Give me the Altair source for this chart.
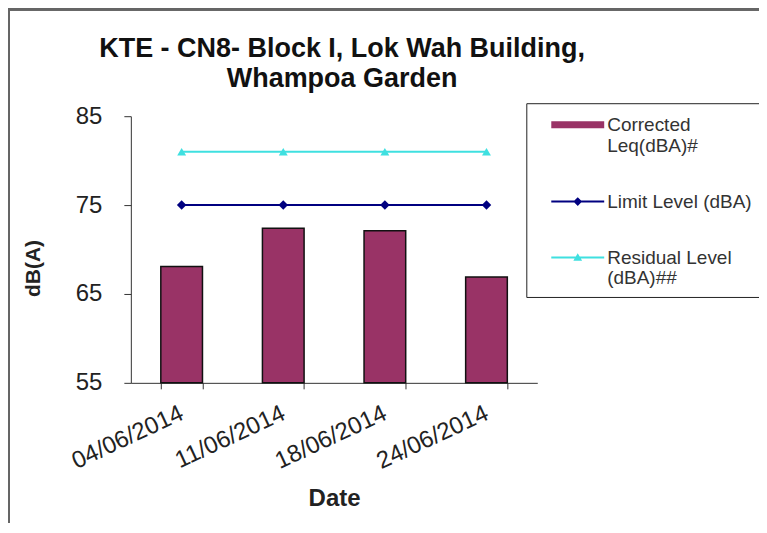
import altair as alt
import pandas as pd

dates = ["04/06/2014", "11/06/2014", "18/06/2014", "24/06/2014"]
corrected = [68.1, 72.4, 72.1, 66.9]
limit = [75, 75, 75, 75]
residual = [81, 81, 81, 81]

series = ["Corrected Leq(dBA)#", "Limit Level (dBA)", "Residual Level (dBA)##"]
colors = ["#993366", "#000080", "#3FE0E0"]
y_ticks = [55, 65, 75, 85]

rows = []
for d, c, l, r in zip(dates, corrected, limit, residual):
    rows.append({"date": d, "series": series[0], "value": c})
    rows.append({"date": d, "series": series[1], "value": l})
    rows.append({"date": d, "series": series[2], "value": r})
df = pd.DataFrame(rows)

FONT = "Liberation Sans"

x_enc = alt.X(
    "date:N",
    sort=dates,
    title="Date",
    scale=alt.Scale(paddingInner=0.59, paddingOuter=0.295),
    axis=alt.Axis(
        labelAngle=-25,
        labelAlign="right",
        labelBaseline="top",
        labelFontSize=24,
        labelFont=FONT,
        labelColor="#222",
        labelPadding=12,
        labelOffset=-5,
        tickBand="extent",
        tickSize=6,
        tickColor="#333",
        domainColor="#333",
        titleFontSize=24,
        titleFont=FONT,
        titleFontWeight="bold",
        titleColor="#222",
        titlePadding=13,
    ),
)
y_scale = alt.Scale(domain=[55, 85], nice=False, zero=False)
y_axis = alt.Axis(
    values=y_ticks,
    grid=False,
    labelFontSize=24,
    labelFont=FONT,
    labelColor="#222",
    labelPadding=22,
    tickSize=7,
    tickColor="#333",
    domainColor="#333",
    title="dB(A)",
    titleFontSize=21,
    titleFont=FONT,
    titleFontWeight="bold",
    titleColor="#222",
    titleAngle=270,
    titleAlign="center",
    titleBaseline="middle",
    titleX=-97,
    titleY=152,
)

base = alt.Chart(df)

bars = (
    base.transform_filter(alt.datum.series == series[0])
    .mark_bar(stroke="#111", strokeWidth=1.5, color=colors[0])
    .encode(
        x=x_enc,
        y=alt.Y("value:Q", scale=y_scale, axis=y_axis),
        y2=alt.datum(55),
    )
)


def line_layers(name, color, shape, size):
    src = base.transform_filter(alt.datum.series == name)
    enc = dict(x=alt.X("date:N", sort=dates), y=alt.Y("value:Q", scale=y_scale))
    ln = src.mark_line(strokeWidth=2, color=color).encode(**enc)
    pt = src.mark_point(shape=shape, filled=True, size=size, opacity=1, color=color).encode(**enc)
    return [ln, pt]


limit_layers = line_layers(series[1], colors[1], "diamond", 90)
resid_layers = line_layers(series[2], colors[2], "triangle-up", 80)

legend_shapes = [
    "M-2,-0.26H2V0.26H-2Z",
    "M-2,-0.075H2V0.075H-2Z M0,-0.33L0.33,0L0,0.33L-0.33,0Z",
    "M-2,-0.075H2V0.075H-2Z M0,-0.33L0.33,0.25L-0.33,0.25Z",
]

legend_layer = (
    base.transform_filter("false")
    .mark_point(filled=True, opacity=1)
    .encode(
        x=alt.X("date:N", sort=dates),
        y=alt.Y("value:Q", scale=y_scale),
        color=alt.Color(
            "series:N",
            scale=alt.Scale(domain=series, range=colors),
            legend=alt.Legend(
                title=None,
                orient="none",
                legendX=396,
                legendY=-13,
                strokeColor="#222",
                fillColor="white",
                padding=8,
                symbolSize=702,
                symbolOffset=30,
                symbolStrokeWidth=0,
                symbolOpacity=1,
                labelOffset=16,
                labelFont=FONT,
                labelFontSize=19,
                labelColor="#333",
                labelLimit=300,
                labelBaseline="middle",
                rowPadding=32,
                labelExpr="datum.label == 'Corrected Leq(dBA)#' ? ['Corrected', 'Leq(dBA)#'] : datum.label == 'Residual Level (dBA)##' ? ['Residual Level', '(dBA)##'] : datum.label",
            ),
        ),
        shape=alt.Shape(
            "series:N",
            scale=alt.Scale(domain=series, range=legend_shapes),
            legend=alt.Legend(title=None),
        ),
    )
)

border_top = base.mark_rule(color="#666", strokeWidth=2).encode(
    x=alt.value(-123), x2=alt.value(700), y=alt.value(-107)
)
border_left = base.mark_rule(color="#666", strokeWidth=2).encode(
    x=alt.value(-122), y=alt.value(-107), y2=alt.value(420)
)

chart = (
    alt.layer(border_top, border_left, bars, *limit_layers, *resid_layers, legend_layer)
    .properties(
        width=407,
        height=267,
        padding={"left": 123, "top": 108, "right": 222, "bottom": 140},
        autosize=alt.AutoSizeParams(type="none"),
        title=alt.TitleParams(
            text=["KTE - CN8- Block I, Lok Wah Building,", "Whampoa Garden"],
            fontSize=27,
            font=FONT,
            fontWeight="bold",
            color="#111",
            lineHeight=30,
            anchor="middle",
            baseline="alphabetic",
            dx=8,
            dy=106,
            offset=0,
        ),
    )
    .configure_view(stroke=None)
)

chart.save("out.html", embed_options={"renderer": "svg", "actions": False})
